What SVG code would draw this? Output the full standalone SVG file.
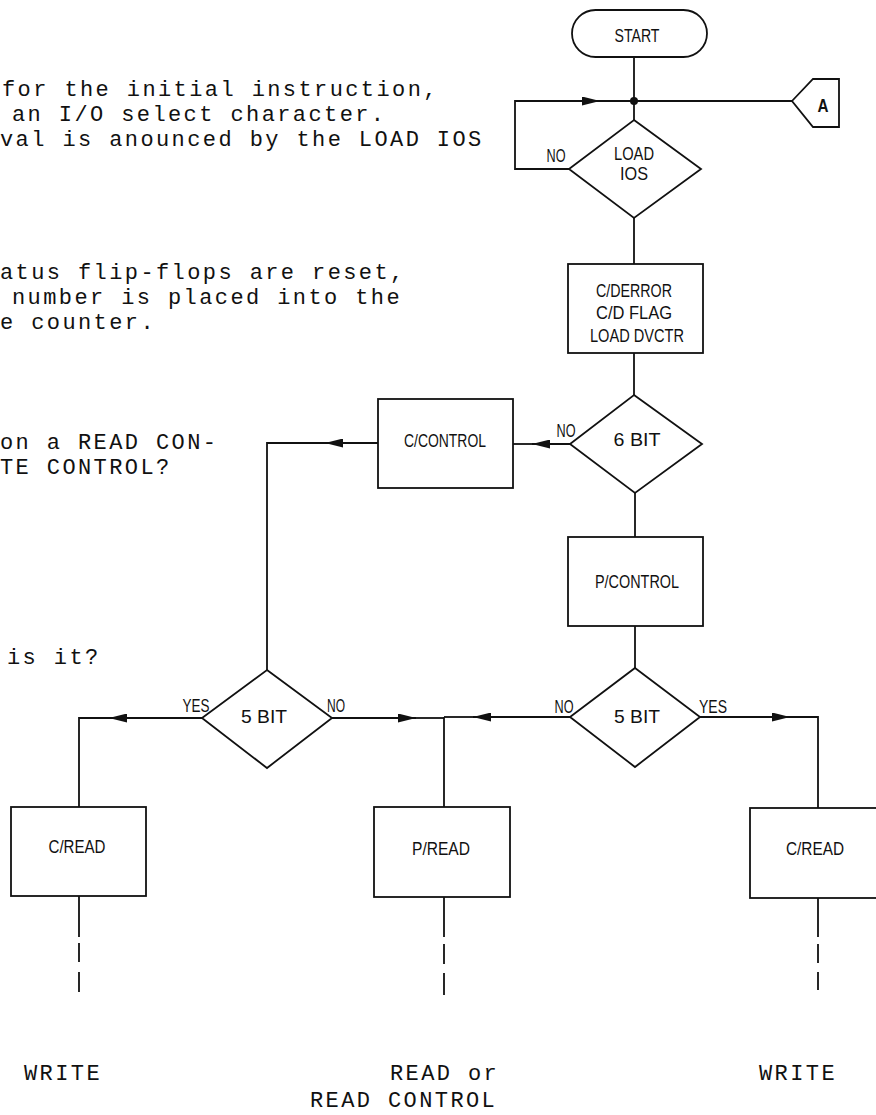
<svg xmlns="http://www.w3.org/2000/svg" width="876" height="1115" viewBox="0 0 876 1115">
<style>
.tw{font-family:"Liberation Mono","DejaVu Sans Mono",monospace;font-size:22px;letter-spacing:2.4px;fill:#111}
.lb{font-family:"Liberation Sans",Arial,sans-serif;font-size:18px;fill:#111;text-anchor:middle}
.sh{fill:#fff;stroke:#111;stroke-width:1.8}
.ln{fill:none;stroke:#111;stroke-width:1.8}
</style>
<defs>
<marker id="ah" viewBox="0 0 20 10" refX="20" refY="5" markerUnits="userSpaceOnUse" markerWidth="20" markerHeight="9" orient="auto">
<path d="M0,0 L20,5 L0,10 Z" fill="#111"/>
</marker>
</defs>
<rect width="876" height="1115" fill="#fff"/>
<g id="notes">
<text class="tw" x="2" y="96">for the initial instruction,</text>
<text class="tw" x="12" y="121">an I/O select character.</text>
<text class="tw" x="0" y="146">val is anounced by the LOAD IOS</text>
<text class="tw" x="0" y="279">atus flip-flops are reset,</text>
<text class="tw" x="12" y="304">number is placed into the</text>
<text class="tw" x="0" y="329">e counter.</text>
<text class="tw" x="0" y="449">on a READ CON-</text>
<text class="tw" x="0" y="474">TE CONTROL?</text>
<text class="tw" x="7" y="664">is it?</text>
<text class="tw" x="24" y="1080">WRITE</text>
<text class="tw" x="390" y="1080">READ or</text>
<text class="tw" x="310" y="1107">READ CONTROL</text>
<text class="tw" x="759" y="1080">WRITE</text>
</g>
<g id="connectors">
<line class="ln" x1="634" y1="57" x2="634" y2="120"/>
<line class="ln" x1="634" y1="101" x2="792" y2="101"/>
<circle cx="634" cy="101" r="4" fill="#111"/>
<path class="ln" d="M569,169 H515 V101 H600" marker-end="url(#ah)"/>
<line class="ln" x1="600" y1="101" x2="634" y2="101"/>
<line class="ln" x1="634" y1="218" x2="634" y2="264"/>
<line class="ln" x1="634" y1="353" x2="634" y2="395"/>
<line class="ln" x1="570" y1="444" x2="532" y2="444" marker-end="url(#ah)"/>
<line class="ln" x1="532" y1="444" x2="513" y2="444"/>
<line class="ln" x1="378" y1="443" x2="325" y2="443" marker-end="url(#ah)"/>
<path class="ln" d="M325,443 H267 V670"/>
<line class="ln" x1="635" y1="493" x2="635" y2="537"/>
<line class="ln" x1="635" y1="626" x2="635" y2="668"/>
<line class="ln" x1="570" y1="717" x2="473" y2="717" marker-end="url(#ah)"/>
<line class="ln" x1="473" y1="717" x2="444" y2="717"/>
<line class="ln" x1="700" y1="717" x2="790" y2="717" marker-end="url(#ah)"/>
<path class="ln" d="M790,717 H818 V808"/>
<line class="ln" x1="202" y1="718" x2="109" y2="718" marker-end="url(#ah)"/>
<path class="ln" d="M109,718 H79 V807"/>
<line class="ln" x1="332" y1="718" x2="416" y2="718" marker-end="url(#ah)"/>
<line class="ln" x1="416" y1="718" x2="444" y2="718"/>
<line class="ln" x1="444" y1="717" x2="444" y2="807"/>
<path class="ln" d="M79,896 V937 M79,943 V962 M79,972 V992"/>
<path class="ln" d="M444,897 V937 M444,944 V964 M444,973 V995"/>
<path class="ln" d="M818,898 V937 M818,944 V963 M818,972 V990"/>
</g>
<g id="start">
<rect class="sh" x="572" y="10" width="135" height="47" rx="23.5"/>
<text class="lb" x="637" y="42" textLength="45" lengthAdjust="spacingAndGlyphs">START</text>
</g>
<g id="connector-a">
<path class="sh" d="M792,101 L813,79 H839 V127 H813 Z"/>
<text class="lb" x="823" y="112" textLength="11" lengthAdjust="spacingAndGlyphs" style="font-weight:bold">A</text>
</g>
<g id="load-ios">
<path class="sh" d="M634,120 L701,169 L634,218 L569,169 Z"/>
<text class="lb" x="634" y="160" textLength="40" lengthAdjust="spacingAndGlyphs">LOAD</text>
<text class="lb" x="634" y="180" textLength="28" lengthAdjust="spacingAndGlyphs">IOS</text>
<text class="lb" x="556" y="162" textLength="19" lengthAdjust="spacingAndGlyphs">NO</text>
</g>
<g id="cderror">
<rect class="sh" x="568" y="264" width="135" height="89"/>
<text class="lb" x="634" y="297" textLength="76" lengthAdjust="spacingAndGlyphs">C/DERROR</text>
<text class="lb" x="634" y="319" textLength="76" lengthAdjust="spacingAndGlyphs">C/D FLAG</text>
<text class="lb" x="637" y="342" textLength="94" lengthAdjust="spacingAndGlyphs">LOAD DVCTR</text>
</g>
<g id="six-bit">
<path class="sh" d="M634,395 L702,444 L635,493 L570,444 Z"/>
<text class="lb" x="637" y="446" textLength="47" lengthAdjust="spacingAndGlyphs">6 BIT</text>
<text class="lb" x="566" y="437" textLength="19" lengthAdjust="spacingAndGlyphs">NO</text>
</g>
<g id="c-control">
<rect class="sh" x="378" y="399" width="135" height="89"/>
<text class="lb" x="445" y="447" textLength="82" lengthAdjust="spacingAndGlyphs">C/CONTROL</text>
</g>
<g id="p-control">
<rect class="sh" x="568" y="537" width="135" height="89"/>
<text class="lb" x="637" y="588" textLength="84" lengthAdjust="spacingAndGlyphs">P/CONTROL</text>
</g>
<g id="five-bit-right">
<path class="sh" d="M635,668 L700,717 L635,767 L570,717 Z"/>
<text class="lb" x="637" y="723" textLength="46" lengthAdjust="spacingAndGlyphs">5 BIT</text>
<text class="lb" x="564" y="713" textLength="19" lengthAdjust="spacingAndGlyphs">NO</text>
<text class="lb" x="713" y="713" textLength="28" lengthAdjust="spacingAndGlyphs">YES</text>
</g>
<g id="five-bit-left">
<path class="sh" d="M267,670 L332,718 L267,768 L202,718 Z"/>
<text class="lb" x="264" y="723" textLength="46" lengthAdjust="spacingAndGlyphs">5 BIT</text>
<text class="lb" x="196" y="712" textLength="27" lengthAdjust="spacingAndGlyphs">YES</text>
<text class="lb" x="336" y="712" textLength="18" lengthAdjust="spacingAndGlyphs">NO</text>
</g>
<g id="c-read-left">
<rect class="sh" x="11" y="807" width="135" height="89"/>
<text class="lb" x="77" y="853" textLength="57" lengthAdjust="spacingAndGlyphs">C/READ</text>
</g>
<g id="p-read">
<rect class="sh" x="374" y="807" width="136" height="90"/>
<text class="lb" x="441" y="855" textLength="58" lengthAdjust="spacingAndGlyphs">P/READ</text>
</g>
<g id="c-read-right">
<rect class="sh" x="750" y="808" width="135" height="90"/>
<text class="lb" x="815" y="855" textLength="58" lengthAdjust="spacingAndGlyphs">C/READ</text>
</g>
</svg>
